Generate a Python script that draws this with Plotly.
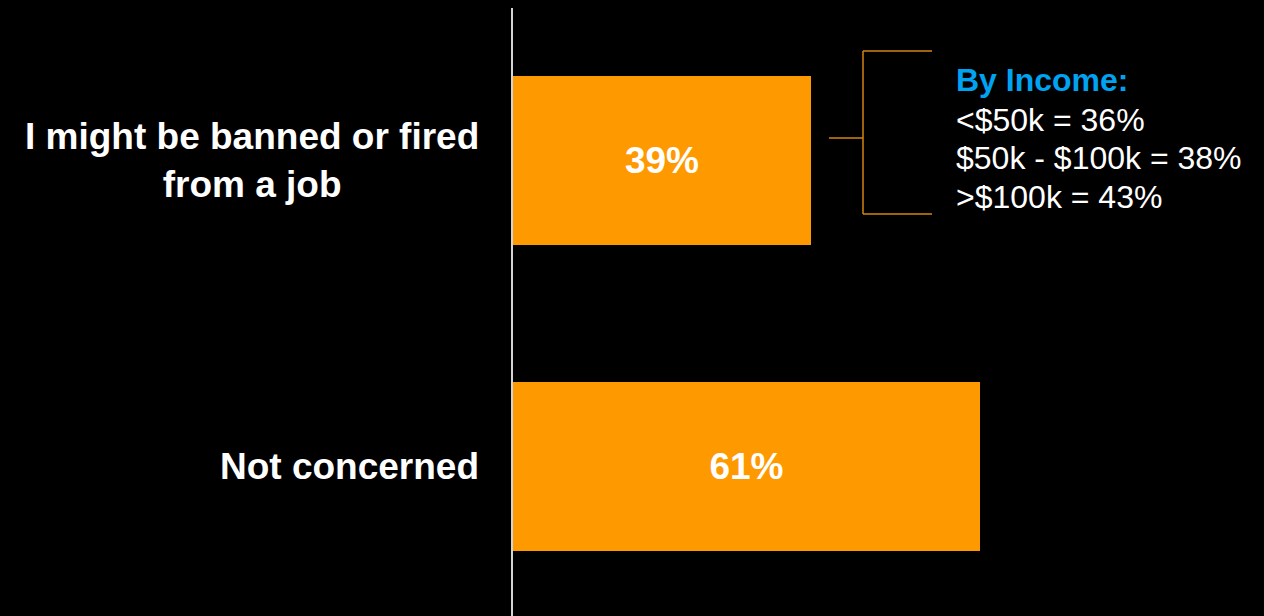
import plotly.graph_objects as go

# Survey responses
categories = ["I might be banned or fired<br>from a job", "Not concerned"]
values = [39, 61]

# Breakdown of the first response by household income
income_groups = ["<$50k", "$50k - $100k", ">$100k"]
income_values = [36, 38, 43]

BAR_COLOR = "#FF9900"
BRACKET_COLOR = "#D4860F"
FONT = "Liberation Sans, Arial, sans-serif"

LEFT = 513              # left edge of the plot area in pixels
PX_PER_UNIT = 7.65      # horizontal pixels per percentage point
PLOT_W = 689            # plot area width in pixels
ROW_PX = 306            # vertical pixels between bar centres

fig = go.Figure()
fig.add_trace(go.Bar(
    x=values,
    y=list(range(len(categories))),
    orientation="h",
    marker=dict(color=BAR_COLOR, line=dict(width=0)),
    width=0.552,
    text=[f"{v}%" for v in values],
    textposition="inside",
    insidetextanchor="middle",
    textfont=dict(family=FONT, size=37, color="white", weight="bold"),
    hoverinfo="skip",
))

# Category labels, centred line by line, right edge just left of the axis
for i, cat in enumerate(categories):
    fig.add_annotation(x=-32 / PLOT_W, y=i, xref="paper", yref="y",
                       text=cat, showarrow=False, xanchor="right", yanchor="middle",
                       align="center",
                       font=dict(family=FONT, size=37, color="white", weight="bold"))

# Bracket linking the first bar to its income breakdown
def px_x(px):
    return (px - LEFT) / PX_PER_UNIT

def px_y(py):
    return (py - 160.5) / ROW_PX

x_stub0, x_stub1, x_arm = px_x(829), px_x(863), px_x(932)
y_top, y_mid, y_bot = px_y(51), px_y(138), px_y(214)
bracket = [
    (x_stub0, y_mid, x_stub1, y_mid),
    (x_stub1, y_top, x_stub1, y_bot),
    (x_stub1, y_top, x_arm, y_top),
    (x_stub1, y_bot, x_arm, y_bot),
]
for x0, y0, x1, y1 in bracket:
    fig.add_shape(type="line", xref="x", yref="y", x0=x0, y0=y0, x1=x1, y1=y1,
                  line=dict(color=BRACKET_COLOR, width=1.5))

# Income breakdown text block
block_x = px_x(954)
fig.add_annotation(x=block_x, y=px_y(80), xref="x", yref="y",
                   text="By Income:", showarrow=False, xanchor="left", yanchor="middle",
                   font=dict(family=FONT, size=32, color="#00A2F2", weight="bold"))
for i, (g, v) in enumerate(zip(income_groups, income_values)):
    fig.add_annotation(x=block_x, y=px_y(120 + i * 38.5), xref="x", yref="y",
                       text=f"{g} = {v}%", showarrow=False, xanchor="left", yanchor="middle",
                       font=dict(family=FONT, size=32, color="white"))

fig.update_layout(
    width=1264, height=616,
    margin=dict(l=LEFT, r=1264 - LEFT - PLOT_W, t=8, b=0),
    paper_bgcolor="black",
    plot_bgcolor="black",
    showlegend=False,
    bargap=0,
    xaxis=dict(range=[0, PLOT_W / PX_PER_UNIT], visible=False, fixedrange=True),
    yaxis=dict(
        range=[1.489, -0.498],
        showline=True, linecolor="#d4d4d4", linewidth=2,
        showgrid=False, zeroline=False,
        ticks="", showticklabels=False,
        fixedrange=True,
    ),
)

fig.write_html("out.html")
